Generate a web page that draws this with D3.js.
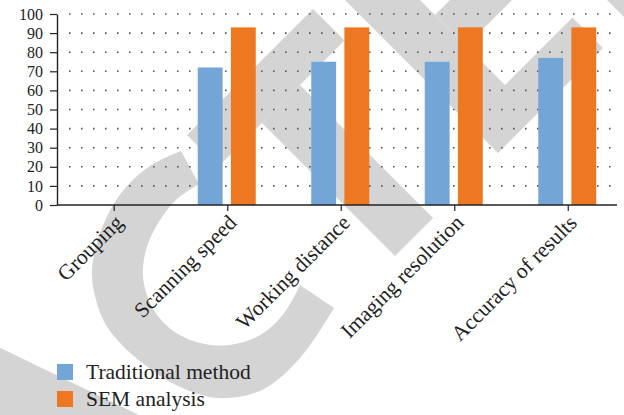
<!DOCTYPE html>
<html>
<head>
<meta charset="utf-8">
<script src="https://cdn.jsdelivr.net/npm/d3@7"></script>
<style>
  html, body { margin: 0; padding: 0; background: #fff; }
  svg { display: block; }
  text { font-family: "Liberation Serif", "Times New Roman", serif; fill: #222; }
</style>
</head>
<body>
<svg id="chart" width="624" height="415"></svg>
<script>
// Categories and series values
const categories = ["Grouping", "Scanning speed", "Working distance", "Imaging resolution", "Accuracy of results"];
const seriesNames = ["Traditional method", "SEM analysis"];
const traditional = [null, 72, 75, 75, 77];
const sem = [null, 93, 93, 93, 93];
const yTicks = [0, 10, 20, 30, 40, 50, 60, 70, 80, 90, 100];
const colors = ["#73a5d6", "#ee7722"];

const svg = d3.select("#chart");
const W = 624, H = 415;
const plot = { left: 57, right: 617, top: 14, bottom: 205 };

svg.append("rect").attr("width", W).attr("height", H).attr("fill", "#fff");

// Faint background stamp (grey strokes behind the plot)
const stamp = svg.append("g").attr("fill", "#d4d4d4");
const cOuter = [[181,151],[150,166],[122,192],[102,228],[92,270],[96,300],[106,325],[122,345],[145,365],[178,386],[218,398],[262,390],[300,358],[334,308]];
const cInner = [[300,285],[285,312],[262,334],[230,345],[200,343],[172,330],[152,307],[143,277],[146,250],[157,225],[176,200],[199,184]];
const curve = d3.line().curve(d3.curveCatmullRom);
stamp.append("path").attr("d", curve(cOuter) + curve(cInner).replace(/^M/, "L") + "Z");
const strokes = [
  [[187,135],[313,9],[344.5,40.5],[218.5,166.5]],
  [[262,123],[300,85],[433,218],[395,256]],
  [[325,-20],[400,-20],[505,85],[572.5,17.5],[603,48],[498,153]],
  [[435,15],[466,46],[532,-20],[470,-20]],
  [[587,-20],[660,-20],[660,53]],
  [[-10,343],[170,430],[-10,430]]
];
strokes.forEach(p => stamp.append("path").attr("d", d3.line()(p) + "Z"));

// Scales
const x0 = d3.scaleBand().domain(categories).range([plot.left + 0.5, 625]).padding(0);
const x1 = d3.scaleBand().domain(seriesNames).range([0, 58]).paddingInner(0.25);
const y = d3.scaleLinear().domain([0, 100]).range([plot.bottom, plot.top]);

// Dotted gridlines
svg.append("g").selectAll("line")
  .data(yTicks.filter(d => d > 0))
  .join("line")
  .attr("x1", plot.left + 12).attr("x2", plot.right - 5)
  .attr("y1", d => y(d)).attr("y2", d => y(d))
  .attr("stroke", "#555").attr("stroke-width", 1.6)
  .attr("stroke-dasharray", "1.6 10.4");

// Bars
const rows = categories.map((c, i) => ({ cat: c, vals: [traditional[i], sem[i]] }));
const groups = svg.append("g").selectAll("g")
  .data(rows).join("g")
  .attr("transform", d => `translate(${x0(d.cat) + (x0.bandwidth() - 58) / 2 - 1},0)`);
groups.selectAll("rect")
  .data(d => d.vals.map((v, j) => ({ s: seriesNames[j], v, j })).filter(e => e.v != null))
  .join("rect")
  .attr("x", e => x1(e.s))
  .attr("width", x1.bandwidth())
  .attr("y", e => y(e.v))
  .attr("height", e => y(0) - y(e.v))
  .attr("fill", e => colors[e.j]);

// Y axis
const yAxis = svg.append("g")
  .attr("transform", `translate(${plot.left},0)`)
  .call(d3.axisLeft(y).tickValues(yTicks).tickSize(7).tickSizeOuter(0).tickPadding(7));
yAxis.select(".domain").attr("stroke", "#222").attr("stroke-width", 1.4);
yAxis.selectAll(".tick line").attr("stroke", "#222").attr("stroke-width", 1.2);
yAxis.selectAll("text").attr("font-size", 16).attr("font-family", "DejaVu Serif").attr("fill", "#1a1a1a");

// X axis
const xAxis = svg.append("g")
  .attr("transform", `translate(0,${plot.bottom})`)
  .call(d3.axisBottom(x0).tickSize(6).tickSizeOuter(0));
xAxis.select(".domain").remove();
xAxis.append("line").attr("x1", plot.left).attr("x2", plot.right).attr("stroke", "#222").attr("stroke-width", 1.4);
xAxis.selectAll(".tick line").attr("stroke", "#222").attr("stroke-width", 1.2);
xAxis.selectAll("text")
  .attr("x", 0).attr("y", 0).attr("dy", 0)
  .attr("text-anchor", "end")
  .attr("transform", "translate(10,19) rotate(-45)")
  .attr("font-size", 21.5).attr("font-family", "Liberation Serif").attr("fill", "#1a1a1a");

// Legend
const legend = svg.append("g").attr("transform", "translate(57,364)");
seriesNames.forEach((name, i) => {
  const g = legend.append("g").attr("transform", `translate(0,${i * 27})`);
  g.append("rect").attr("width", 16).attr("height", 16).attr("fill", colors[i]);
  g.append("text").attr("x", 29).attr("y", 15).attr("font-size", 21.5).attr("fill", "#1a1a1a").text(name);
});
</script>
</body>
</html>
